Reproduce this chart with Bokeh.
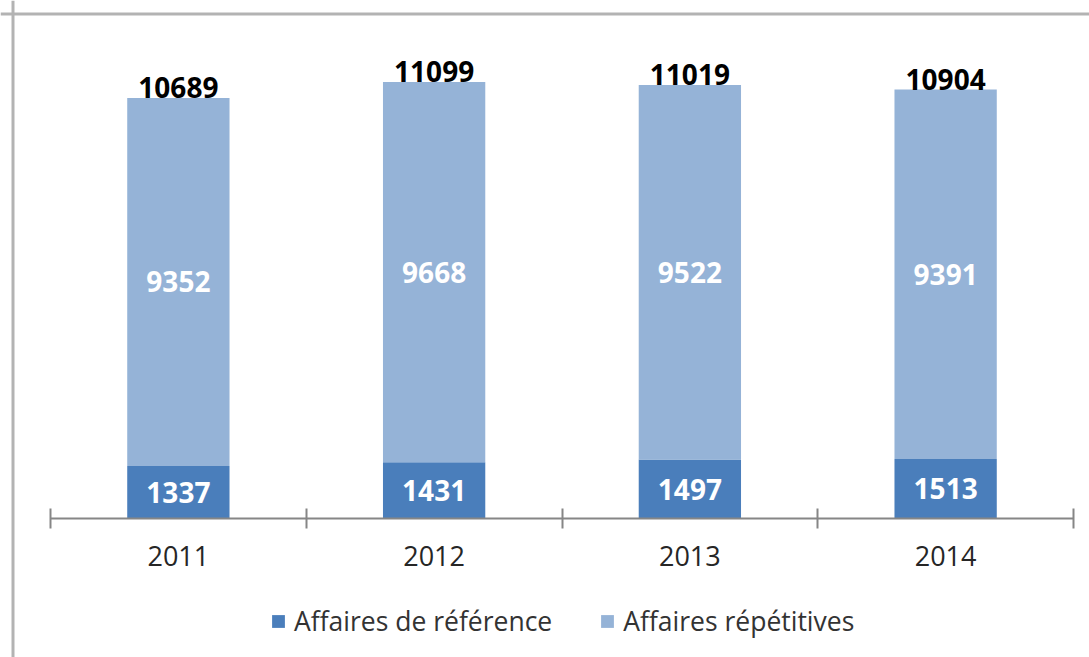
from bokeh.plotting import figure
from bokeh.models import (ColumnDataSource, Range1d, LinearAxis, FixedTicker,
                          Legend, LegendItem, Span)
from bokeh.core.properties import value
from bokeh.embed import file_html
from bokeh.resources import INLINE

years = ["2011", "2012", "2013", "2014"]
affaires_reference = [1337, 1431, 1497, 1513]
affaires_repetitives = [9352, 9668, 9522, 9391]
totals = [10689, 11099, 11019, 10904]
series_names = ["Affaires de référence", "Affaires répétitives"]

DARK = "#4A7EBB"
LIGHT = "#95B3D7"
FONT = "Open Sans"

# canvas / frame geometry (pixels)
W, H = 1089, 657
PX_PER_CAT = 255.75          # width of one category slot
PX_PER_UNIT = 472 / 12000    # vertical scale
AXIS_LEFT_PX = 50            # left end of the category axis inside the canvas
AXIS_Y_PX = 518              # y of the axis line inside the canvas

xs = [i + 1 for i in range(len(years))]
x_start = 0.5 - AXIS_LEFT_PX / PX_PER_CAT
x_end = x_start + W / PX_PER_CAT
y_end = AXIS_Y_PX / PX_PER_UNIT
y_start = y_end - H / PX_PER_UNIT

src = ColumnDataSource(dict(
    x=xs,
    ref=affaires_reference,
    rep=affaires_repetitives,
    ref_mid=[r / 2 for r in affaires_reference],
    rep_mid=[r + p / 2 for r, p in zip(affaires_reference, affaires_repetitives)],
    total=totals,
    ref_txt=[str(v) for v in affaires_reference],
    rep_txt=[str(v) for v in affaires_repetitives],
    tot_txt=[str(v) for v in totals],
))

p = figure(width=W, height=H,
           x_range=Range1d(x_start, x_end), y_range=Range1d(y_start, y_end),
           output_backend="svg", toolbar_location=None,
           x_axis_location=None, y_axis_location=None,
           min_border_left=0, min_border_right=0,
           min_border_top=0, min_border_bottom=0)
p.grid.visible = False
p.outline_line_color = None
p.background_fill_color = "white"
p.border_fill_color = "white"

# chart-area border (left and top edges)
p.add_layout(Span(location=x_start + 12.5 / PX_PER_CAT, dimension="height",
                  line_color="#b3b3b3", line_width=3))
p.add_layout(Span(location=y_end - 13.5 / PX_PER_UNIT, dimension="width",
                  line_color="#b3b3b3", line_width=3))

rs = p.vbar_stack(["ref", "rep"], x="x", width=0.4, source=src,
                  color=[DARK, LIGHT], line_color=None)

axis = LinearAxis(ticker=FixedTicker(ticks=xs, minor_ticks=[x - 0.5 for x in xs] + [xs[-1] + 0.5]),
                  fixed_location=0, bounds=(0.5, len(years) + 0.5))
axis.major_label_overrides = {x: y for x, y in zip(xs, years)}
axis.axis_line_color = "#868686"
axis.axis_line_width = 2
axis.major_tick_line_color = None
axis.major_tick_in = 0
axis.major_tick_out = 0
axis.minor_tick_line_color = "#868686"
axis.minor_tick_line_width = 2
axis.minor_tick_in = 10
axis.minor_tick_out = 10
axis.major_label_text_font = FONT
axis.major_label_text_font_size = "27px"
axis.major_label_text_color = "#262626"
axis.major_label_standoff = 17
p.add_layout(axis, "below")

common = dict(source=src, text_align="center", text_font=value(FONT),
              text_font_style="bold", text_font_size="28px")
p.text(x="x", y="ref_mid", text="ref_txt", text_color="white",
       text_baseline="middle", **common)
p.text(x="x", y="rep_mid", text="rep_txt", text_color="white",
       text_baseline="middle", **common)
p.text(x="x", y="total", text="tot_txt", text_color="black",
       text_baseline="bottom", **common)

legend = Legend(items=[LegendItem(label=series_names[0], renderers=[rs[0]]),
                       LegendItem(label=series_names[1], renderers=[rs[1]])],
                orientation="horizontal", location=(270, 18),
                padding=0, margin=0, spacing=47, label_standoff=8,
                glyph_width=16, glyph_height=16,
                label_text_font=FONT, label_text_font_size="26.5px",
                label_text_color="#333333",
                border_line_color=None, background_fill_alpha=0)
p.add_layout(legend, "center")

open("out.html", "w").write(file_html(p, INLINE))
